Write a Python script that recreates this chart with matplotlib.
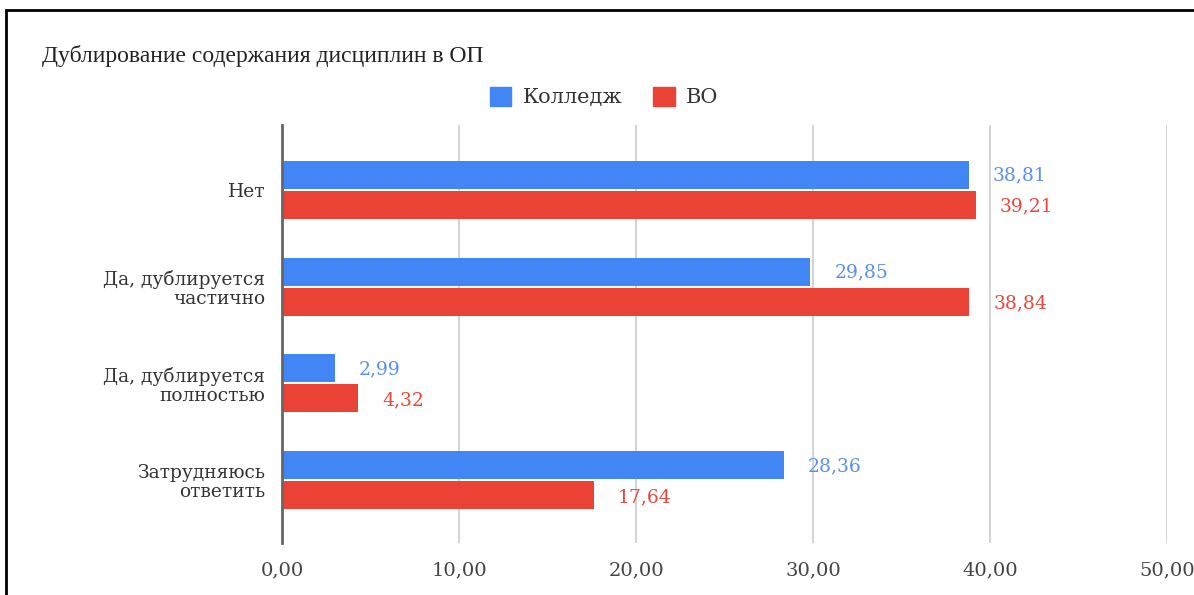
import numpy as np
import matplotlib
matplotlib.use('Agg')
import matplotlib.pyplot as plt
import matplotlib.patches as mpatches

# ---- DATA ----
categories = ["Нет", "Да, дублируется\nчастично", "Да, дублируется\nполностью", "Затрудняюсь\nответить"]
college = [38.81, 29.85, 2.99, 28.36]
vo = [39.21, 38.84, 4.32, 17.64]
series_names = ["Колледж", "ВО"]
xticks = [0, 10, 20, 30, 40, 50]
title = "Дублирование содержания дисциплин в ОП"

BLUE = '#4285F4'
RED = '#EA4335'
WIDE = ['DejaVu Serif']

plt.rcParams['font.family'] = ['Liberation Serif', 'DejaVu Serif']

fig = plt.figure(figsize=(11.94, 5.95), dpi=100)
ax = fig.add_axes([0.2362, 0.0874, 0.7412, 0.7026])

y = np.arange(len(categories))
h = 0.29
ax.barh(y - h / 2 - 0.01, college, height=h, color=BLUE, zorder=3)
ax.barh(y + h / 2 + 0.01, vo, height=h, color=RED, zorder=3)

# value labels, shifted right of the bar end
off = 24 / 177 * 10
for yi, v in zip(y, college):
    ax.text(v + off, yi - h / 2, f"{v:.2f}".replace('.', ','), color='#5a8ff0',
            fontsize=13.5, family=WIDE, va='center', ha='left')
for yi, v in zip(y, vo):
    ax.text(v + off, yi + h / 2 + 0.03, f"{v:.2f}".replace('.', ','), color='#e8473b',
            fontsize=13.5, family=WIDE, va='center', ha='left')

ax.set_xlim(0, 50)
ax.set_ylim(3.65, -0.67)
ax.set_xticks(xticks)
ax.set_xticklabels([f"{t:.2f}".replace('.', ',') for t in xticks], fontsize=14,
                   color='#444444', family=WIDE)
ax.set_yticks(y)
ax.set_yticklabels(categories, fontsize=13.4, color='#333333', family=WIDE, linespacing=1.05)
ax.tick_params(length=0, pad=12)
ax.tick_params(axis='x', pad=13)
ax.grid(axis='x', color='#cccccc', linewidth=1.2, zorder=0)
for s in ['top', 'right', 'bottom']:
    ax.spines[s].set_visible(False)
ax.spines['left'].set_color('#666666')
ax.spines['left'].set_linewidth(2)
ax.spines['left'].set_zorder(4)

fig.text(42 / 1194, 1 - 56 / 595, title, fontsize=17, color='#222222', va='center', ha='left')

handles = [mpatches.Patch(color=BLUE, label=series_names[0]),
           mpatches.Patch(color=RED, label=series_names[1])]
fig.legend(handles=handles, loc='center', bbox_to_anchor=(604 / 1194, 1 - 97 / 595), ncol=2,
           frameon=False, prop={'family': WIDE, 'size': 15}, handlelength=1.05, handleheight=1.05,
           columnspacing=1.45, handletextpad=0.55, labelcolor='#333333')

# outer black frame
fig.patches.append(mpatches.Rectangle((6 / 1194, -0.1), 1.2, 1 - 10 / 595 + 0.1,
                                      transform=fig.transFigure, fill=False,
                                      edgecolor='black', linewidth=2))

fig.savefig('out.png', dpi=100)
